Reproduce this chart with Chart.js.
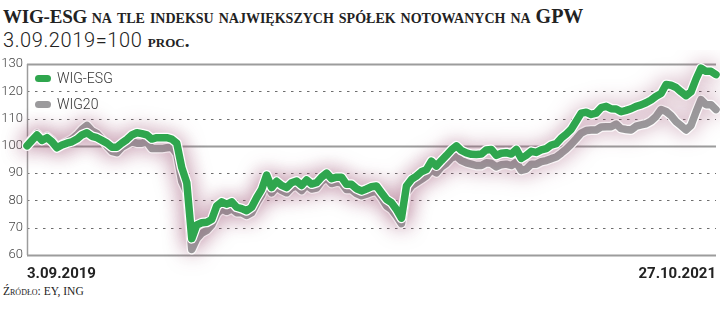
<!DOCTYPE html>
<html>
<head>
<meta charset="utf-8">
<script src="https://cdn.jsdelivr.net/npm/chart.js@4.4.1/dist/chart.umd.min.js"></script>
<style>
  html,body{margin:0;padding:0;background:#fff;}
  body{width:720px;height:310px;position:relative;overflow:hidden;color:#222;}
  #tytul{position:absolute;left:3px;top:5px;font-family:'Liberation Serif',serif;font-weight:bold;font-size:19px;white-space:nowrap;letter-spacing:-0.2px;}
  #tytul .sc{font-variant:small-caps;font-size:20px;letter-spacing:0;}
  #baza{position:absolute;left:3px;top:28px;font-family:Roboto,sans-serif;font-weight:300;font-size:20px;white-space:nowrap;letter-spacing:0.6px;}
  #baza .sc{font-family:'Liberation Serif',serif;font-weight:bold;font-variant:small-caps;font-size:19px;letter-spacing:0;}
  #zrodlo{position:absolute;left:3px;top:285px;font-family:'Liberation Serif',serif;font-variant:small-caps;font-size:11.5px;white-space:nowrap;}
  .leg{position:absolute;left:35px;font-family:Roboto,sans-serif;font-weight:300;font-size:14px;color:#333;white-space:nowrap;}
  .leg i{display:inline-block;width:16px;height:7px;border-radius:3.5px;vertical-align:middle;margin-right:6px;margin-top:-2px;}
  #wrap{position:absolute;left:0;top:50px;width:720px;height:232px;}
</style>
</head>
<body>
<div id="tytul">WIG-ESG <span class="sc">na tle indeksu największych spółek notowanych na GPW</span></div>
<div id="baza">3.09.2019=100 <span class="sc">proc.</span></div>
<div id="wrap"><canvas id="wykres"></canvas></div>
<div class="leg" style="top:70px"><i style="background:#2fa64e"></i>WIG-ESG</div>
<div class="leg" style="top:96px"><i style="background:#9b9a9c"></i>WIG20</div>
<div id="zrodlo">Źródło: EY, ING</div>
<script>
// dane (sesje od 3.09.2019 do 27.10.2021)
const poczatek = "3.09.2019";
const koniec = "27.10.2021";
const liniePelne = [60, 100, 130];

const wigEsg = [
  100, 102, 104, 102, 103, 101.5, 99.3, 100.3, 101, 101.5,
  102.5, 104, 104.8, 103.5, 103, 102, 101, 99.5, 99.5, 101,
  102.3, 104, 104.8, 104.5, 104, 102.5, 103, 103, 103, 102.5,
  101, 92, 86.5, 66, 71, 71.8, 72, 73, 78, 79.5,
  78.6, 79.5, 77.5, 77, 76.2, 77.5, 81, 84, 89.3, 84.7,
  87, 85.5, 84.7, 86.5, 87.1, 85.5, 87.5, 86, 86.5, 88.5,
  90, 88, 88.5, 88.5, 85.9, 85.9, 84.3, 83.5, 84.2, 85,
  85.3, 82.8, 80.4, 79.2, 76.7, 73.5, 85.3, 87.7, 88.9, 90.5,
  91.3, 94.4, 92.6, 94.6, 96.5, 98.5, 100, 98.3, 97.4, 96.9,
  96.8, 97, 98.5, 98.7, 96.5, 97.3, 97.5, 97, 98.7, 95.4,
  96.5, 98, 97.6, 98.5, 99, 100.3, 100.8, 102.8, 104.3, 106.1,
  109, 112, 112.3, 111.5, 112, 114, 114.5, 113.6, 113.5, 112.5,
  113, 113.6, 114.5, 115, 115.8, 116.8, 118.2, 119.2, 122.5, 122.2,
  121.4, 119.8, 118.4, 119.8, 124.5, 128.5, 127.3, 127.3, 126.1
];

const wig20 = [
  100, 102.5, 104.5, 102.5, 103.5, 102, 99.5, 100.5, 101.5, 102.5,
  104, 106, 107.5, 105.5, 104.5, 102.5, 100, 98, 97.5, 99.5,
  100.5, 101.5, 101, 101, 101.5, 99, 99, 99, 99.3, 99.5,
  97, 87, 83, 62, 66, 68, 69, 71, 75, 77,
  76, 77, 75.5, 75.5, 74.5, 75.5, 79, 82, 87.3, 82.8,
  85, 83.7, 82.8, 84.7, 85.3, 83.6, 85.7, 84.2, 84.5, 87,
  88.3, 86.2, 86.7, 86.5, 84, 84, 82.5, 81.7, 82.3, 83,
  83.4, 81, 78, 76.7, 74.3, 71.5, 82.8, 85.3, 86.5, 87.7,
  89, 91.3, 90.1, 92.3, 93.6, 95.6, 96.2, 94.6, 93.8, 93.3,
  92.8, 92.8, 93.8, 93.6, 92.3, 93.1, 93.3, 92.8, 94, 91,
  91.5, 93.3, 93.3, 94.2, 94.6, 95.3, 95.9, 97.3, 98.8, 100.6,
  102.6, 104.7, 105.6, 105.8, 105.8, 106.9, 107, 107, 108, 106.3,
  106, 105.8, 107.2, 107.7, 108.1, 109.1, 110.8, 113.3, 112.6, 111.1,
  108.9, 107.4, 105.8, 107.5, 112.4, 116.9, 115.1, 115.1, 113.3
];

const punkty = arr => arr.map((v, i) => ({x: i, y: v}));
const ostatni = wigEsg.length - 1;

// siatka: ciagle linie na 60/100/130, kropkowane na reszcie
const siatka = {
  id: 'siatka',
  beforeDatasetsDraw(chart) {
    const {ctx, chartArea: a, scales: {y}} = chart;
    ctx.save();
    y.ticks.forEach(t => {
      const ciagla = liniePelne.includes(t.value);
      const py = Math.round(y.getPixelForValue(t.value)) + 0.5;
      ctx.beginPath();
      ctx.setLineDash(ciagla ? [] : [2.5, 5.5]);
      ctx.strokeStyle = ciagla ? '#9c9c9c' : '#6e6e6e';
      ctx.lineWidth = ciagla ? 2 : 1;
      ctx.moveTo(a.left, py);
      ctx.lineTo(a.right, py);
      ctx.stroke();
    });
    ctx.setLineDash([]);
    ctx.strokeStyle = '#9c9c9c';
    ctx.lineWidth = 1.5;
    ctx.beginPath();
    ctx.moveTo(a.left + 0.5, y.getPixelForValue(130));
    ctx.lineTo(a.left + 0.5, y.getPixelForValue(60));
    ctx.stroke();
    ctx.restore();
  }
};

// rozmyta poswiata pod liniami
const poswiata = {
  id: 'poswiata',
  beforeDatasetDraw(chart, args) {
    if (chart.data.datasets[args.index].obrys) {
      chart.ctx.save();
      chart.ctx.shadowColor = 'rgba(150,70,105,0.5)';
      chart.ctx.shadowBlur = 20;
    }
  },
  afterDatasetDraw(chart, args) {
    if (chart.data.datasets[args.index].obrys) chart.ctx.restore();
  }
};

const linia = (dane, kolor, szer, kolejnosc, obrys) => ({
  data: punkty(dane),
  borderColor: kolor,
  borderWidth: szer,
  pointRadius: 0,
  tension: 0,
  borderJoinStyle: 'round',
  borderCapStyle: 'round',
  clip: false,
  order: kolejnosc,
  obrys: obrys
});

new Chart(document.getElementById('wykres'), {
  type: 'line',
  data: {
    datasets: [
      linia(wigEsg, '#2fa64e', 7.5, 0, false),
      linia(wigEsg, '#ffffff', 10, 1, true),
      linia(wig20, '#9b9a9c', 7.5, 2, false),
      linia(wig20, '#ffffff', 10, 3, true)
    ]
  },
  options: {
    responsive: true,
    maintainAspectRatio: false,
    animation: false,
    layout: {padding: {top: 14, right: 4, left: 0, bottom: 0}},
    plugins: {legend: {display: false}, tooltip: {enabled: false}},
    scales: {
      x: {
        type: 'linear',
        min: 0,
        max: ostatni,
        grid: {display: false},
        border: {display: false},
        afterBuildTicks: s => { s.ticks = [{value: 0}, {value: ostatni}]; },
        afterFit: s => { s.height = 27; },
        ticks: {
          align: 'inner',
          maxRotation: 0,
          padding: 2,
          color: '#222',
          font: {family: "'Liberation Sans Narrow', Roboto, sans-serif", size: 15, weight: 'bold'},
          callback: v => v === 0 ? poczatek : (v === ostatni ? koniec : '')
        }
      },
      y: {
        min: 60,
        max: 130,
        grid: {display: false, drawTicks: false},
        border: {display: false},
        afterFit: s => { s.width = 27; },
        ticks: {
          stepSize: 10,
          padding: 4,
          color: '#444',
          font: {family: 'Roboto, sans-serif', size: 13, weight: '300'}
        }
      }
    }
  },
  plugins: [siatka, poswiata]
});
</script>
</body>
</html>
